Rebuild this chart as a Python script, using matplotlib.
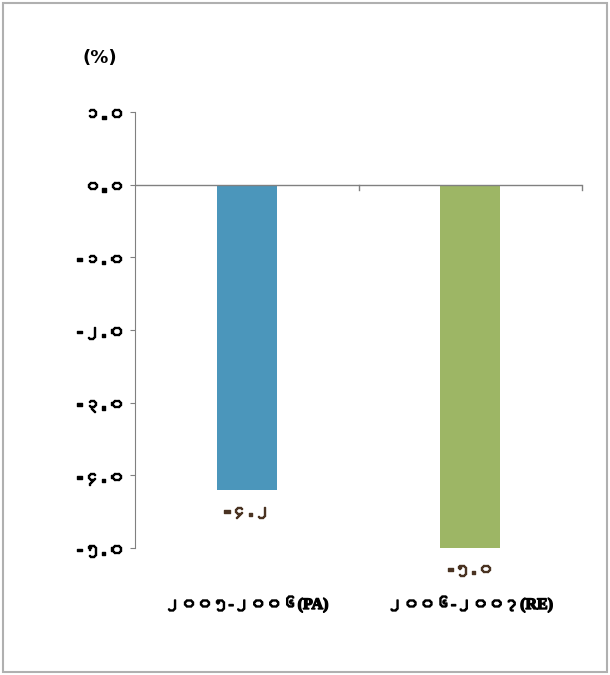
import matplotlib
matplotlib.use('Agg')
import numpy as np
from matplotlib import pyplot as plt
from matplotlib import font_manager
from matplotlib import patheffects as pe
from matplotlib.patches import Rectangle
from fontTools.ttLib import TTFont

categories = ['၂၀၀၅-၂၀၀၆(PA)', '၂၀၀၆-၂၀၀၇(RE)']
values = [-4.2, -5.0]
value_labels = ['-၄.၂', '-၅.၀']
tick_values = [1.0, 0.0, -1.0, -2.0, -3.0, -4.0, -5.0]
tick_labels = ['၁.၀', '၀.၀', '-၁.၀', '-၂.၀', '-၃.၀', '-၄.၀', '-၅.၀']
colors = ['#4b96bb', '#9db665']


def myanmar_families():
    # fonts that have Myanmar digits
    found = []
    for f in font_manager.fontManager.ttflist:
        try:
            cmap = TTFont(f.fname, fontNumber=0, lazy=True).getBestCmap()
        except Exception:
            continue
        if cmap and 0x1041 in cmap and f.name not in found:
            found.append(f.name)
    return found


mm = myanmar_families()
sans = ['DejaVu Sans'] + mm
serif = ['Liberation Serif'] + mm
bold = [pe.withStroke(linewidth=1.0, foreground='black')]

fig = plt.figure(figsize=(6.10, 6.75), dpi=100)
fig.patches.append(Rectangle((0.005, 0.005), 0.99, 0.99, transform=fig.transFigure,
                             fill=False, edgecolor='#b0b0b0', linewidth=1.5))

ax = fig.add_axes([135 / 610, 1 - 548 / 675, (582 - 135) / 610, (548 - 112) / 675])
x = np.arange(len(categories))
ax.bar(x, values, width=0.27, color=colors)
ax.set_xlim(-0.5, 1.5)
ax.set_ylim(-5.0, 1.0)

for s in ['top', 'right', 'bottom']:
    ax.spines[s].set_visible(False)
ax.spines['left'].set_color('#808080')
ax.axhline(0, color='#808080', linewidth=1)
for xv in [0.5, 1.5]:
    ax.plot([xv, xv], [0, -0.08], color='#808080', linewidth=1, clip_on=False)

ax.set_yticks(tick_values)
ax.set_yticklabels(tick_labels, fontsize=12.5, fontweight='bold', family=sans)
ax.tick_params(axis='y', length=3.5, color='#808080', pad=4)
for t in ax.get_yticklabels():
    t.set_path_effects(bold)
ax.set_xticks([])

for xi, v, lab in zip(x, values, value_labels):
    ax.text(xi, v - 0.17, lab, ha='center', va='top', fontsize=12,
            fontweight='bold', color='#4a3322', family=sans, clip_on=False,
            path_effects=[pe.withStroke(linewidth=1.0, foreground='#4a3322')])
    ax.text(xi, -5.78, categories[xi], ha='center', va='center', fontsize=11.5,
            fontweight='bold', color='black', family=serif, clip_on=False,
            path_effects=bold)

fig.text(100 / 610, 1 - 58 / 675, '(%)', ha='center', va='center',
         fontsize=13, fontweight='bold', family=sans)

fig.savefig('out.png', dpi=100)
